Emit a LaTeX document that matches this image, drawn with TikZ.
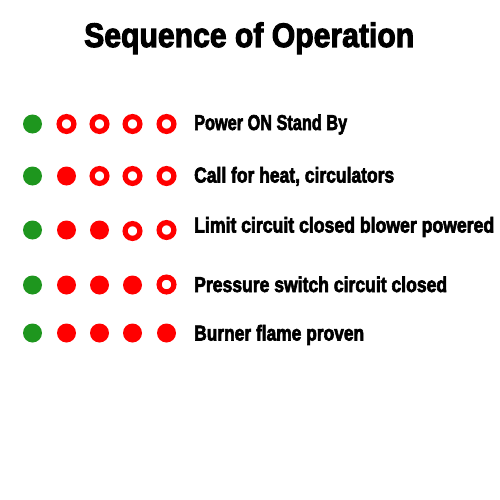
\documentclass[tikz,border=0pt]{standalone}
\usepackage{fontspec}
\usepackage{graphicx}
\newfontfamily\imp{Liberation Sans}[FakeBold=3.2]
\newcommand\fitw[2]{\setbox0\hbox{#2}\pgfmathsetmacro\fx{#1/\the\wd0}\scalebox{\fx}[1]{\box0}}
\definecolor{ledgreen}{RGB}{30,150,30}
\definecolor{ledred}{RGB}{255,0,0}
\tikzset{
  ledon/.style={circle, fill=ledgreen, minimum size=19pt, inner sep=0pt},
  ledred/.style={circle, fill=ledred, minimum size=19pt, inner sep=0pt},
  ledoff/.style={circle, draw=ledred, line width=5.2pt, minimum size=14.8pt, inner sep=0pt},
  lbl/.style={anchor=base west, inner sep=0pt, font=\imp\bfseries\fontsize{21.5}{22}\selectfont},
  ttl/.style={anchor=base west, inner sep=0pt, font=\imp\bfseries\fontsize{34}{35}\selectfont}
}
\begin{document}
\begin{tikzpicture}[x=1pt,y=-1pt]
\useasboundingbox (0,0) rectangle (500,500);
\fill[white] (0,0) rectangle (500,500);
\node[ttl] (title) at (84,47) {\fitw{330}{Sequence of Operation}};
% row 1
\node[ledon]  (a1) at (32.5,124) {};
\node[ledoff] (a2) at (66.5,124) {};
\node[ledoff] (a3) at (99.5,124) {};
\node[ledoff] (a4) at (132.5,124) {};
\node[ledoff] (a5) at (166.5,124) {};
\node[lbl] (t1) at (194,130) {\fitw{153}{Power ON Stand By}};
% row 2
\node[ledon]  (b1) at (32.5,176) {};
\node[ledred] (b2) at (66.5,176) {};
\node[ledoff] (b3) at (99.5,176) {};
\node[ledoff] (b4) at (132.5,176) {};
\node[ledoff] (b5) at (166.5,176) {};
\node[lbl] (t2) at (194,182.5) {\fitw{200}{Call for heat, circulators}};
% row 3
\node[ledon]  (c1) at (32.5,230) {};
\node[ledred] (c2) at (66.5,230) {};
\node[ledred] (c3) at (99.5,230) {};
\node[ledoff] (c4) at (132.5,231) {};
\node[ledoff] (c5) at (166.5,230) {};
\node[lbl] (t3) at (194,232.5) {\fitw{300}{Limit circuit closed blower powered}};
% row 4
\node[ledon]  (d1) at (32.5,285) {};
\node[ledred] (d2) at (66.5,285) {};
\node[ledred] (d3) at (99.5,285) {};
\node[ledred] (d4) at (132.5,285) {};
\node[ledoff] (d5) at (166.5,284.5) {};
\node[lbl] (t4) at (194,292) {\fitw{253}{Pressure switch circuit closed}};
% row 5
\node[ledon]  (e1) at (32.5,333) {};
\node[ledred] (e2) at (66.5,333) {};
\node[ledred] (e3) at (99.5,333) {};
\node[ledred] (e4) at (132.5,333) {};
\node[ledred] (e5) at (166.5,333) {};
\node[lbl] (t5) at (194,340.5) {\fitw{170}{Burner flame proven}};
\end{tikzpicture}
\end{document}
